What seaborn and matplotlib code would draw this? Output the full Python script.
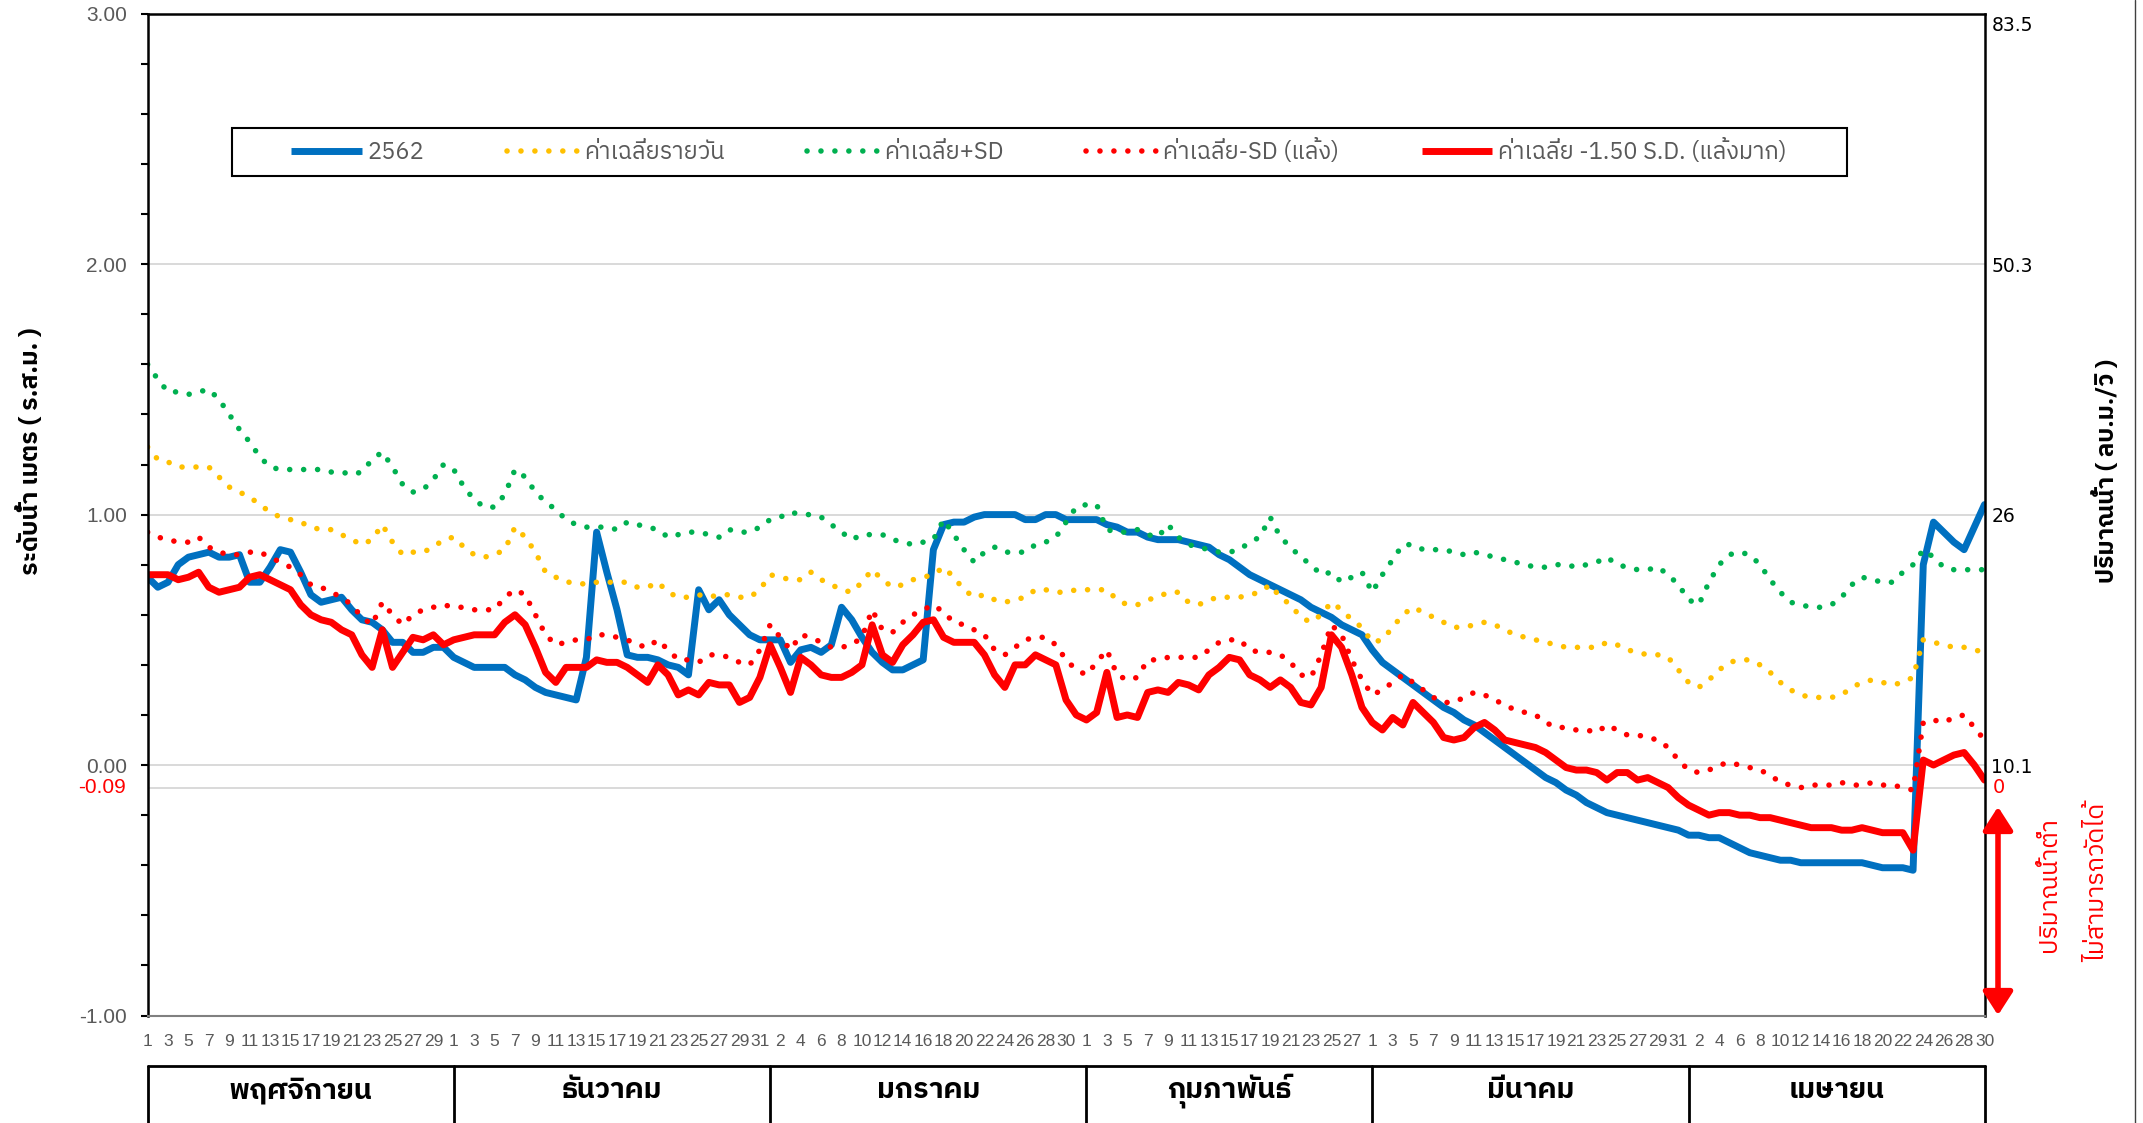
import numpy as np
import pandas as pd
import matplotlib
matplotlib.use('Agg')
import matplotlib.pyplot as plt
import matplotlib.transforms as mtransforms
from matplotlib import font_manager, ft2font
from matplotlib.patches import Rectangle, FancyArrowPatch
from matplotlib.lines import Line2D
from matplotlib.ticker import MultipleLocator
import seaborn as sns

# ---- data (Nov 2561 .. Apr 2562, one value per day) ----
month_names = ['พฤศจิกายน', 'ธันวาคม', 'มกราคม', 'กุมภาพันธ์', 'มีนาคม', 'เมษายน']
month_days = [30, 31, 31, 28, 31, 30]

level_2562 = [
    0.75, 0.71, 0.73, 0.80, 0.83, 0.84, 0.85, 0.83, 0.83, 0.84, 0.73, 0.73, 0.79, 0.86, 0.85,
    0.77, 0.68, 0.65, 0.66, 0.67, 0.62, 0.58, 0.57, 0.54, 0.49, 0.49, 0.45, 0.45, 0.47, 0.47,
    0.43, 0.41, 0.39, 0.39, 0.39, 0.39, 0.36, 0.34, 0.31, 0.29, 0.28, 0.27, 0.26, 0.43, 0.93, 0.77,
    0.62, 0.44, 0.43, 0.43, 0.42, 0.40, 0.39, 0.36, 0.70, 0.62, 0.66, 0.60, 0.56, 0.52, 0.50,
    0.50, 0.50, 0.41, 0.46, 0.47, 0.45, 0.48, 0.63, 0.58, 0.51, 0.45, 0.41, 0.38, 0.38, 0.40, 0.42,
    0.86, 0.96, 0.97, 0.97, 0.99, 1.00, 1.00, 1.00, 1.00, 0.98, 0.98, 1.00, 1.00, 0.98, 0.98,
    0.98, 0.98, 0.96, 0.95, 0.93, 0.93, 0.91, 0.90, 0.90, 0.90, 0.89, 0.88, 0.87, 0.84,
    0.82, 0.79, 0.76, 0.74, 0.72, 0.70, 0.68, 0.66, 0.63, 0.61, 0.59, 0.56, 0.54, 0.52,
    0.46, 0.41, 0.38, 0.35, 0.32, 0.29, 0.26, 0.23, 0.21, 0.18, 0.16, 0.13, 0.10, 0.07, 0.04, 0.01,
    -0.02, -0.05, -0.07, -0.10, -0.12, -0.15, -0.17, -0.19, -0.20, -0.21, -0.22, -0.23, -0.24, -0.25, -0.26,
    -0.28, -0.28, -0.29, -0.29, -0.31, -0.33, -0.35, -0.36, -0.37, -0.38, -0.38, -0.39, -0.39, -0.39, -0.39,
    -0.39, -0.39, -0.39, -0.40, -0.41, -0.41, -0.41, -0.42, 0.80, 0.97, 0.93, 0.89, 0.86, 0.95, 1.04,
]

mean_daily = [
    1.27, 1.22, 1.21, 1.19, 1.19, 1.19, 1.19, 1.15, 1.11, 1.09, 1.07, 1.04, 1.01, 0.99, 0.98,
    0.97, 0.95, 0.94, 0.94, 0.92, 0.90, 0.88, 0.90, 0.96, 0.89, 0.84, 0.85, 0.85, 0.87, 0.90,
    0.91, 0.87, 0.84, 0.83, 0.84, 0.86, 0.95, 0.91, 0.85, 0.77, 0.75, 0.73, 0.73, 0.72, 0.73, 0.73,
    0.73, 0.73, 0.71, 0.71, 0.73, 0.69, 0.67, 0.67, 0.68, 0.67, 0.68, 0.68, 0.67, 0.67, 0.70,
    0.76, 0.75, 0.74, 0.74, 0.77, 0.74, 0.72, 0.70, 0.69, 0.73, 0.78, 0.74, 0.71, 0.72, 0.74, 0.75,
    0.76, 0.79, 0.75, 0.70, 0.67, 0.68, 0.66, 0.65, 0.66, 0.67, 0.70, 0.70, 0.69, 0.69, 0.70,
    0.70, 0.70, 0.70, 0.66, 0.64, 0.64, 0.66, 0.67, 0.69, 0.69, 0.65, 0.64, 0.66, 0.67,
    0.67, 0.67, 0.68, 0.69, 0.72, 0.67, 0.64, 0.59, 0.57, 0.60, 0.65, 0.62, 0.58, 0.55,
    0.49, 0.50, 0.55, 0.60, 0.63, 0.61, 0.59, 0.57, 0.55, 0.55, 0.56, 0.57, 0.56, 0.54, 0.52, 0.51,
    0.50, 0.49, 0.48, 0.47, 0.47, 0.47, 0.47, 0.49, 0.48, 0.46, 0.45, 0.44, 0.44, 0.43, 0.38,
    0.33, 0.31, 0.34, 0.38, 0.41, 0.42, 0.42, 0.40, 0.37, 0.33, 0.30, 0.28, 0.27, 0.27, 0.27,
    0.28, 0.31, 0.33, 0.34, 0.33, 0.32, 0.33, 0.35, 0.50, 0.49, 0.48, 0.47, 0.47, 0.46, 0.45,
]

mean_plus_sd = [
    1.60, 1.54, 1.49, 1.49, 1.48, 1.49, 1.50, 1.46, 1.40, 1.34, 1.29, 1.23, 1.19, 1.18, 1.18,
    1.18, 1.18, 1.18, 1.17, 1.17, 1.16, 1.17, 1.22, 1.25, 1.19, 1.12, 1.09, 1.10, 1.14, 1.20,
    1.18, 1.11, 1.06, 1.03, 1.03, 1.08, 1.18, 1.15, 1.09, 1.05, 1.02, 0.98, 0.96, 0.95, 0.95, 0.95,
    0.94, 0.97, 0.96, 0.95, 0.94, 0.91, 0.92, 0.93, 0.93, 0.92, 0.91, 0.94, 0.93, 0.93, 0.95,
    0.98, 0.99, 1.01, 1.00, 1.00, 0.99, 0.96, 0.93, 0.90, 0.92, 0.92, 0.92, 0.90, 0.89, 0.88, 0.89,
    0.90, 0.98, 0.92, 0.86, 0.81, 0.85, 0.87, 0.85, 0.85, 0.85, 0.88, 0.89, 0.91, 0.97, 1.03,
    1.04, 1.04, 0.94, 0.93, 0.93, 0.94, 0.92, 0.91, 0.96, 0.91, 0.88, 0.87, 0.86, 0.85,
    0.85, 0.86, 0.89, 0.91, 0.99, 0.91, 0.87, 0.83, 0.80, 0.76, 0.77, 0.73, 0.75, 0.77,
    0.69, 0.76, 0.82, 0.88, 0.88, 0.86, 0.86, 0.86, 0.85, 0.84, 0.85, 0.84, 0.83, 0.82, 0.81, 0.80,
    0.79, 0.79, 0.80, 0.80, 0.79, 0.80, 0.81, 0.83, 0.80, 0.79, 0.78, 0.78, 0.79, 0.76, 0.72,
    0.66, 0.64, 0.73, 0.80, 0.84, 0.85, 0.84, 0.80, 0.74, 0.69, 0.65, 0.64, 0.63, 0.63, 0.64,
    0.67, 0.72, 0.75, 0.74, 0.73, 0.73, 0.77, 0.80, 0.86, 0.83, 0.79, 0.78, 0.78, 0.78, 0.78,
]

mean_minus_sd = [
    0.93, 0.91, 0.90, 0.89, 0.89, 0.91, 0.87, 0.85, 0.84, 0.84, 0.85, 0.85, 0.83, 0.81, 0.79,
    0.76, 0.72, 0.71, 0.69, 0.67, 0.64, 0.59, 0.56, 0.65, 0.60, 0.56, 0.60, 0.62, 0.63, 0.64,
    0.63, 0.63, 0.62, 0.62, 0.62, 0.67, 0.70, 0.68, 0.60, 0.52, 0.48, 0.49, 0.50, 0.50, 0.52, 0.52,
    0.51, 0.50, 0.48, 0.47, 0.50, 0.46, 0.42, 0.42, 0.41, 0.44, 0.44, 0.43, 0.41, 0.40, 0.46,
    0.56, 0.51, 0.46, 0.52, 0.51, 0.49, 0.47, 0.47, 0.48, 0.51, 0.62, 0.54, 0.53, 0.57, 0.60, 0.62,
    0.64, 0.61, 0.57, 0.56, 0.54, 0.52, 0.46, 0.44, 0.47, 0.50, 0.51, 0.51, 0.48, 0.42, 0.38,
    0.36, 0.41, 0.46, 0.36, 0.34, 0.35, 0.42, 0.42, 0.43, 0.43, 0.43, 0.43, 0.46, 0.49,
    0.50, 0.50, 0.46, 0.45, 0.45, 0.44, 0.41, 0.36, 0.35, 0.44, 0.56, 0.52, 0.42, 0.34,
    0.28, 0.30, 0.33, 0.36, 0.33, 0.30, 0.27, 0.25, 0.25, 0.27, 0.29, 0.28, 0.26, 0.24, 0.22, 0.21,
    0.20, 0.17, 0.15, 0.15, 0.14, 0.14, 0.13, 0.16, 0.14, 0.12, 0.12, 0.11, 0.10, 0.07, 0.02,
    -0.02, -0.03, -0.02, 0.00, 0.01, 0.00, -0.01, -0.02, -0.04, -0.07, -0.08, -0.09, -0.08, -0.08, -0.08,
    -0.07, -0.08, -0.08, -0.07, -0.08, -0.08, -0.09, -0.10, 0.17, 0.18, 0.17, 0.19, 0.20, 0.15, 0.10,
]

mean_minus_15sd = [
    0.76, 0.76, 0.76, 0.74, 0.75, 0.77, 0.71, 0.69, 0.70, 0.71, 0.75, 0.76, 0.74, 0.72, 0.70,
    0.64, 0.60, 0.58, 0.57, 0.54, 0.52, 0.44, 0.39, 0.54, 0.39, 0.45, 0.51, 0.50, 0.52, 0.48,
    0.50, 0.51, 0.52, 0.52, 0.52, 0.57, 0.60, 0.56, 0.47, 0.37, 0.33, 0.39, 0.39, 0.39, 0.42, 0.41,
    0.41, 0.39, 0.36, 0.33, 0.40, 0.36, 0.28, 0.30, 0.28, 0.33, 0.32, 0.32, 0.25, 0.27, 0.35,
    0.48, 0.39, 0.29, 0.43, 0.40, 0.36, 0.35, 0.35, 0.37, 0.40, 0.56, 0.44, 0.41, 0.48, 0.52, 0.57,
    0.58, 0.51, 0.49, 0.49, 0.49, 0.44, 0.36, 0.31, 0.40, 0.40, 0.44, 0.42, 0.40, 0.26, 0.20,
    0.18, 0.21, 0.37, 0.19, 0.20, 0.19, 0.29, 0.30, 0.29, 0.33, 0.32, 0.30, 0.36, 0.39,
    0.43, 0.42, 0.36, 0.34, 0.31, 0.34, 0.31, 0.25, 0.24, 0.31, 0.52, 0.47, 0.36, 0.23,
    0.17, 0.14, 0.19, 0.16, 0.25, 0.21, 0.17, 0.11, 0.10, 0.11, 0.15, 0.17, 0.14, 0.10, 0.09, 0.08,
    0.07, 0.05, 0.02, -0.01, -0.02, -0.02, -0.03, -0.06, -0.03, -0.03, -0.06, -0.05, -0.07, -0.09, -0.13,
    -0.16, -0.18, -0.20, -0.19, -0.19, -0.20, -0.20, -0.21, -0.21, -0.22, -0.23, -0.24, -0.25, -0.25, -0.25,
    -0.26, -0.26, -0.25, -0.26, -0.27, -0.27, -0.27, -0.34, 0.02, 0.00, 0.02, 0.04, 0.05, 0.00, -0.06,
]

series_labels = ['2562', 'ค่าเฉลี่ยรายวัน', 'ค่าเฉลี่ย+SD', 'ค่าเฉลี่ย-SD (แล้ง)',
                 'ค่าเฉลี่ย -1.50 S.D. (แล้งมาก)']
level_ticks = [3.0, 2.0, 1.0, 0.0, -1.0]
level_ticklabels = ['3.00', '2.00', '1.00', '0.00', '-1.00']
flow_ticks = [2.96, 2.0, 1.0, 0.0]
flow_ticklabels = ['83.5', '50.3', '26', '10.1']
zero_flow_level = -0.09


# ---- fonts ----
def find_thai_font():
    fallback = None
    for f in font_manager.fontManager.ttflist:
        try:
            cmap = ft2font.FT2Font(f.fname).get_charmap()
        except Exception:
            continue
        if 0x0E01 in cmap:
            if 'Thai' in f.name:
                return f.name
            if fallback is None:
                fallback = f.name
    return fallback


names = {f.name for f in font_manager.fontManager.ttflist}
thai = find_thai_font()
num_font = 'Liberation Sans' if 'Liberation Sans' in names else 'DejaVu Sans'

sns.set_style('white')
plt.rcParams['font.family'] = [thai, 'DejaVu Sans'] if thai else ['DejaVu Sans']

days = [d for n in month_days for d in range(1, n + 1)]
df = pd.DataFrame({
    'x': np.arange(len(days)),
    'level_2562': level_2562,
    'mean_daily': mean_daily,
    'mean_plus_sd': mean_plus_sd,
    'mean_minus_sd': mean_minus_sd,
    'mean_minus_15sd': mean_minus_15sd,
})

W, H = 2143, 1123
fig = plt.figure(figsize=(W / 100, H / 100), dpi=100)
ax = fig.add_axes([147.6 / W, 1 - 1015.5 / H, 1836.9 / W, 1001.8 / H])

dot = (0, (0.01, 2.5))
styles = [
    ('level_2562', '#0070C0', '-', 5.0),
    ('mean_daily', '#FFC000', dot, 4.0),
    ('mean_plus_sd', '#00B050', dot, 4.0),
    ('mean_minus_sd', '#FF0000', dot, 4.0),
    ('mean_minus_15sd', '#FF0000', '-', 5.0),
]
handles = []
for (col, color, ls, lw), lab in zip(styles, series_labels):
    sns.lineplot(data=df, x='x', y=col, ax=ax, color=color, linewidth=lw, legend=False)
    line = ax.lines[-1]
    line.set_linestyle(ls)
    line.set_dash_capstyle('round')
    line.set_solid_capstyle('round')
    line.set_solid_joinstyle('round')
    h = Line2D([], [], color=color, linewidth=lw, linestyle=ls,
               dash_capstyle='round', solid_capstyle='butt')
    handles.append(h)

ax.set_xlim(0, len(days) - 1)
ax.set_ylim(-1, 3)
ax.set_xlabel('')
ax.set_ylabel('')

# grid lines
for y in [2.0, 1.0, 0.0, zero_flow_level]:
    ax.axhline(y, color='#D9D9D9', linewidth=1.4, zorder=0)

# spines
for s in ['left', 'top', 'right']:
    ax.spines[s].set_color('black')
    ax.spines[s].set_linewidth(1.8)
ax.spines['bottom'].set_color('#808080')
ax.spines['bottom'].set_linewidth(1.5)

# y ticks (left)
ax.set_yticks(level_ticks)
ax.set_yticklabels(level_ticklabels, fontfamily=num_font, fontsize=15, color='#595959')
ax.yaxis.set_minor_locator(MultipleLocator(0.2))
ax.tick_params(axis='y', which='both', direction='out', length=5, width=1.5, color='black', pad=10)
ax.text(-22 / 1836.9, zero_flow_level, '-0.09', transform=ax.get_yaxis_transform(),
        ha='right', va='center', color='red', fontfamily=num_font, fontsize=15)

# x ticks
ax.set_xticks(np.arange(0, len(days), 2))
ax.set_xticklabels([str(d) for d in days[::2]], fontfamily=num_font, fontsize=12.5,
                   color='#595959')
ax.set_xticks(np.arange(1, len(days), 2), minor=True)
ax.tick_params(axis='x', which='both', direction='out', length=4, width=1, color='#404040', pad=9)

# right axis (flow)
ax2 = ax.twinx()
ax2.set_ylim(-1, 3)
ax2.set_yticks(flow_ticks)
ax2.set_yticklabels(flow_ticklabels, fontfamily='DejaVu Sans', fontsize=13.5, color='black')
ax2.tick_params(axis='y', length=0, pad=5)
for s in ax2.spines.values():
    s.set_visible(False)
ax2.text(1 + 8 / 1836.9, zero_flow_level, '0', transform=ax2.get_yaxis_transform(),
         ha='left', va='center', color='red', fontfamily='DejaVu Sans', fontsize=14)

# legend with a plain box
box = Rectangle((0.046, 0.838), 0.879, 0.048, transform=ax.transAxes, facecolor='white',
                edgecolor='black', linewidth=1.5, zorder=5)
ax.add_patch(box)
leg = ax.legend(handles, series_labels, ncol=5, loc='center', bbox_to_anchor=(0.4853, 0.862),
                frameon=False, fontsize=17, handlelength=3.0, handletextpad=0.25,
                columnspacing=3.5, labelcolor='#595959')
leg.set_zorder(6)

# axis titles
fig.text(30 / W, 1 - 451 / H, 'ระดับน้ำ เมตร ( ร.ส.ม. )', rotation=90, ha='center', va='center',
         fontsize=18, fontweight='bold', color='black')
fig.text(2106 / W, 1 - 471 / H, 'ปริมาณน้ำ ( ลบ.ม./วิ )', rotation=90, ha='center', va='center',
         fontsize=17.5, fontweight='bold', color='black')

# low-flow annotation
arrow = FancyArrowPatch((1998 / W, 1 - 804 / H), (1998 / W, 1 - 1018 / H),
                        transform=fig.transFigure,
                        arrowstyle='<|-|>,head_length=0.7,head_width=0.45',
                        mutation_scale=20, linewidth=4, color='red')
fig.add_artist(arrow)
fig.text(2050 / W, 1 - 885 / H, 'ปริมาณน้ำต่ำ', rotation=90, ha='center', va='center',
         fontsize=18, color='red')
fig.text(2098 / W, 1 - 882 / H, 'ไม่สามารถวัดได้', rotation=90, ha='center', va='center',
         fontsize=18, color='red')

# month table under the axis
blend = mtransforms.blended_transform_factory(ax.transData, fig.transFigure)
table_top = 1 - 1066 / H
bounds = np.concatenate([[0], np.cumsum(month_days)])
bounds[-1] = len(days) - 1
ax.add_line(Line2D([0, len(days) - 1], [table_top, table_top], transform=blend, color='black',
                   linewidth=2, clip_on=False))
for b in bounds:
    ax.add_line(Line2D([b, b], [0, table_top], transform=blend, color='black', linewidth=2,
                       clip_on=False))
for name, a, b in zip(month_names, bounds[:-1], bounds[1:]):
    ax.text((a + b) / 2, 1 - 1091 / H, name, transform=blend, ha='center', va='center',
            fontsize=20.5, fontweight='bold', color='black')

# outer chart border on the right
fig.add_artist(Line2D([2135 / W, 2135 / W], [0, 1], transform=fig.transFigure,
                      color='#404040', linewidth=1))

fig.savefig('out.png', dpi=100)
